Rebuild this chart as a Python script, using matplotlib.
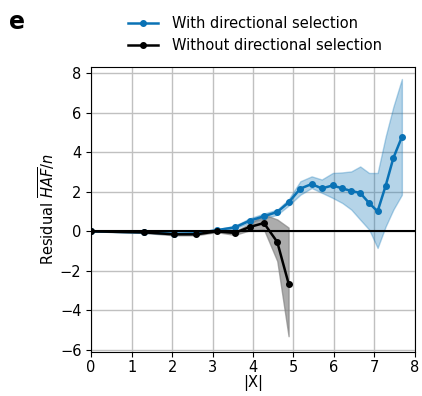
import matplotlib.pyplot as plt
import numpy as np

# |X| positions and residual HAF/n values
x_with = [0, 1.3, 2.05, 2.6, 3.1, 3.55, 3.92, 4.27, 4.6, 4.88, 5.17, 5.45,
          5.7, 5.97, 6.21, 6.43, 6.65, 6.87, 7.08, 7.28, 7.47, 7.68]
y_with = [0, -0.05, -0.12, -0.1, 0.06, 0.2, 0.54, 0.76, 0.98, 1.46, 2.16, 2.39,
          2.17, 2.32, 2.17, 2.04, 1.94, 1.43, 1.01, 2.31, 3.71, 4.77]
lo_with = [0, -0.08, -0.16, -0.14, 0.02, 0.14, 0.44, 0.64, 0.84, 1.3, 1.85, 2.19,
           1.95, 1.69, 1.43, 1.1, 0.59, 0.09, -0.84, 0.25, 1.1, 1.85]
hi_with = [0, -0.02, -0.08, -0.06, 0.1, 0.28, 0.66, 0.9, 1.1, 1.62, 2.53, 2.78,
           2.62, 2.95, 2.98, 3.03, 3.28, 2.95, 2.95, 4.8, 6.3, 7.7]

x_without = [0, 1.3, 2.05, 2.6, 3.1, 3.55, 3.92, 4.27, 4.6, 4.88]
y_without = [0, -0.05, -0.15, -0.15, 0.0, -0.08, 0.22, 0.42, -0.54, -2.64]
lo_without = [0, -0.08, -0.2, -0.2, -0.04, -0.18, 0.05, 0.1, -1.5, -5.3]
hi_without = [0, -0.02, -0.1, -0.1, 0.04, 0.0, 0.38, 0.85, 0.6, 0.19]

blue = '#0a72b5'

fig = plt.figure(figsize=(4.22, 3.96), dpi=100)
ax = fig.add_axes([0.216, 0.111, 0.767, 0.721])

ax.fill_between(x_with, lo_with, hi_with, color=blue, alpha=0.3, lw=1)
ax.fill_between(x_without, lo_without, hi_without, color='gray', alpha=0.65, lw=1)
ax.plot(x_with, y_with, '-o', color=blue, lw=1.8, ms=4, label='With directional selection')
ax.plot(x_without, y_without, '-o', color='black', lw=1.8, ms=4, label='Without directional selection')
ax.axhline(0, color='black', lw=1.5)

ax.set_xlim(0, 8)
ax.set_ylim(-6.1, 8.33)
ax.set_xticks(range(0, 9))
ax.set_yticks(range(-6, 9, 2))
ax.grid(True, color='#c0c0c0', lw=1)
ax.set_axisbelow(True)
ax.set_xlabel('|X|', fontsize=10.5, labelpad=0)
ax.set_ylabel(r'Residual $\overline{HAF}/n$', fontsize=10.5, labelpad=2)
ax.tick_params(labelsize=10.5)
ax.tick_params(axis='x', pad=2)

fig.legend(loc='center', bbox_to_anchor=(0.605, 0.913), frameon=False,
           fontsize=10.5, handlelength=2.0, handletextpad=1.0, borderpad=0,
           labelspacing=0.45)
fig.text(0.022, 0.945, 'e', fontsize=17, fontweight='bold', va='center')

plt.savefig('out.png', dpi=100)
